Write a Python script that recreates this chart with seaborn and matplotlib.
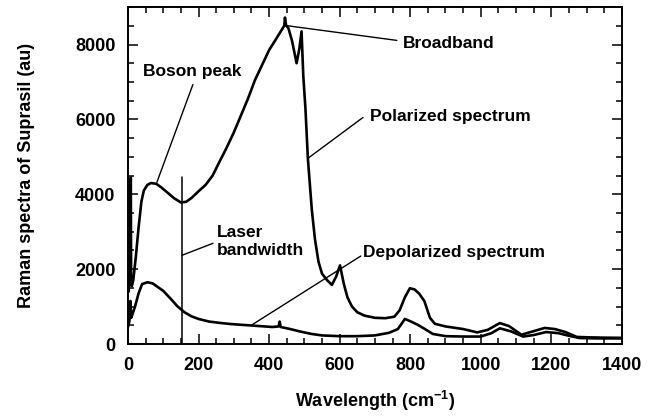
import matplotlib
matplotlib.use("Agg")
import matplotlib.pyplot as plt
from matplotlib.ticker import MultipleLocator
import pandas as pd
import seaborn as sns

# Polarized Raman spectrum of Suprasil (wavenumber, intensity)
pol_wn = [2, 5, 8, 9, 11, 15, 22, 30, 38, 45, 55, 65, 80, 95, 110, 130, 150, 165,
          180, 200, 220, 240, 260, 280, 300, 320, 340, 360, 380, 400, 420, 435,
          443, 445, 448, 455, 465, 478, 486, 492, 497, 503, 510, 521, 530, 540,
          550, 565, 578, 590, 601, 612, 622, 635, 650, 670, 700, 730, 755, 770,
          785, 799, 812, 825, 840, 856, 870, 900, 950, 990, 1020, 1054, 1080,
          1115, 1145, 1181, 1210, 1240, 1272, 1300, 1350, 1400]
pol_val = [1400, 1800, 4450, 1600, 1550, 1700, 2300, 3100, 3800, 4100, 4250, 4300,
           4280, 4180, 4060, 3900, 3780, 3800, 3900, 4080, 4250, 4500, 4880, 5250,
           5650, 6100, 6550, 7050, 7450, 7850, 8150, 8380, 8500, 8720, 8520, 8430,
           8100, 7500, 7900, 8350, 7150, 6300, 4950, 3600, 2800, 2200, 1880, 1700,
           1580, 1800, 2100, 1600, 1250, 1000, 850, 760, 700, 690, 730, 900, 1250,
           1490, 1460, 1350, 1150, 700, 540, 470, 400, 310, 380, 560, 480, 250,
           330, 430, 400, 320, 190, 180, 170, 165]

# Depolarized Raman spectrum
dep_wn = [0, 4, 7, 9, 13, 20, 30, 40, 55, 70, 85, 100, 120, 140, 160, 180, 200,
          230, 260, 290, 320, 350, 380, 410, 427, 430, 433, 460, 490, 520, 550,
          600, 650, 700, 740, 765, 785, 800, 820, 840, 864, 900, 950, 1000, 1030,
          1054, 1085, 1120, 1150, 1185, 1220, 1250, 1280, 1330, 1400]
dep_val = [450, 600, 1150, 700, 800, 1000, 1350, 1600, 1650, 1620, 1520, 1420,
           1220, 1010, 850, 740, 670, 600, 565, 535, 515, 495, 475, 455, 470, 600,
           455, 400, 330, 270, 230, 210, 210, 230, 300, 400, 670, 610, 520, 410,
           270, 210, 200, 200, 290, 420, 340, 200, 240, 320, 290, 220, 160, 150, 150]

# Laser line position
laser_wn = [152, 152]
laser_val = [0, 4450]

x_ticks = [0, 200, 400, 600, 800, 1000, 1200, 1400]
y_ticks = [0, 2000, 4000, 6000, 8000]

# Annotations: label, text anchor (wn, value), line start, line end
notes = [
    ("Boson peak", (42, 7280), (184, 6930), (82, 4320)),
    ("Broadband", (779, 8030), (762, 8110), (445, 8510)),
    ("Polarized spectrum", (686, 6080), (666, 6050), (510, 4960)),
    ("Laser\nbandwidth", (252, 2750), (241, 2690), (153, 2370)),
    ("Depolarized spectrum", (666, 2450), (660, 2350), (351, 510)),
]

sns.set_theme(style="ticks")
plt.rcParams["font.family"] = ["Liberation Sans", "DejaVu Sans"]
plt.rcParams["font.weight"] = "bold"
plt.rcParams["text.color"] = "black"
plt.rcParams["axes.labelcolor"] = "black"
plt.rcParams["xtick.color"] = "black"
plt.rcParams["ytick.color"] = "black"
plt.rcParams["mathtext.fontset"] = "custom"
plt.rcParams["mathtext.rm"] = "Liberation Sans:bold"
plt.rcParams["mathtext.bf"] = "Liberation Sans:bold"

fig = plt.figure(figsize=(6.63, 4.16), dpi=100)
ax = fig.add_axes([0.193, 0.173, 0.745, 0.810])

pol = pd.DataFrame({"wn": pol_wn, "val": pol_val})
dep = pd.DataFrame({"wn": dep_wn, "val": dep_val})
sns.lineplot(data=pol, x="wn", y="val", ax=ax, color="black", lw=1.9,
             sort=False, estimator=None)
sns.lineplot(data=dep, x="wn", y="val", ax=ax, color="black", lw=1.9,
             sort=False, estimator=None)
ax.plot(laser_wn, laser_val, color="black", lw=1.1)

for label, txt_xy, start, end in notes:
    ax.plot([start[0], end[0]], [start[1], end[1]], color="black", lw=1.0)
    ax.text(txt_xy[0], txt_xy[1], label, ha="left", va="center",
            fontsize=12.5, fontweight="bold", linespacing=1.25, color="black")

ax.set_xlim(0, 1400)
ax.set_ylim(0, 9000)
ax.set_xticks(x_ticks)
ax.set_yticks(y_ticks)
ax.xaxis.set_minor_locator(MultipleLocator(50))
ax.yaxis.set_minor_locator(MultipleLocator(500))
ax.tick_params(which="both", direction="in", top=True, right=True,
               color="black", labelcolor="black", width=1.1)
ax.tick_params(which="major", length=7, labelsize=13)
ax.tick_params(which="minor", length=4)
ax.tick_params(axis="x", which="major", pad=9)
ax.tick_params(axis="y", which="major", pad=9)
for lab in ax.get_xticklabels() + ax.get_yticklabels():
    lab.set_fontweight("bold")
for s in ax.spines.values():
    s.set_linewidth(1.4)
    s.set_color("black")

ax.set_xlabel(r"Wavelength (cm$^{\mathbf{-1}}$)", fontsize=13,
              fontweight="bold", labelpad=11, color="black")
ax.set_ylabel("Raman spectra of Suprasil (au)", fontsize=13,
              fontweight="bold", labelpad=29, color="black")

fig.savefig("out.png", dpi=100)
